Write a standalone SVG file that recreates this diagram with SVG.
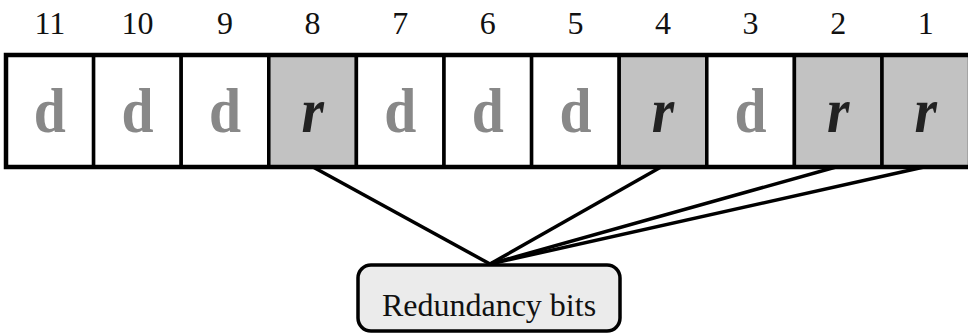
<svg xmlns="http://www.w3.org/2000/svg" width="968" height="334" viewBox="0 0 968 334">
<style>
.num{font-family:"Liberation Serif",serif;font-size:32px;text-anchor:middle;fill:#111}
.cell{stroke:#000;stroke-width:3.5}
.d{fill:#fff}
.r{fill:#c2c2c2}
.dl{font-family:"Liberation Serif",serif;font-size:64px;font-weight:bold;text-anchor:middle;fill:#888}
.rl{font-family:"Liberation Serif",serif;font-size:64px;font-weight:bold;font-style:italic;text-anchor:middle;fill:#222}
.conn{stroke:#000;stroke-width:3.5;fill:none}
</style>
<rect width="968" height="334" fill="#fff"/>
<g id="connectors">
<line class="conn" x1="313" y1="167" x2="490" y2="264"/>
<line class="conn" x1="661" y1="167" x2="490" y2="264"/>
<line class="conn" x1="836" y1="167" x2="490" y2="264"/>
<line class="conn" x1="924" y1="167" x2="490" y2="264"/>
</g>
<g id="bit11"><rect class="cell d" x="6" y="55" width="87.6" height="112"/><text class="num" x="49.8" y="34">11</text><text class="dl" transform="translate(49.8 132) scale(0.9 1)">d</text></g>
<g id="bit10"><rect class="cell d" x="93.6" y="55" width="87.6" height="112"/><text class="num" x="137.4" y="34">10</text><text class="dl" transform="translate(137.4 132) scale(0.9 1)">d</text></g>
<g id="bit9"><rect class="cell d" x="181.2" y="55" width="87.6" height="112"/><text class="num" x="225" y="34">9</text><text class="dl" transform="translate(225 132) scale(0.9 1)">d</text></g>
<g id="bit8"><rect class="cell r" x="268.8" y="55" width="87.6" height="112"/><text class="num" x="312.6" y="34">8</text><text class="rl" transform="translate(312.6 132) scale(0.9 1)">r</text></g>
<g id="bit7"><rect class="cell d" x="356.4" y="55" width="87.6" height="112"/><text class="num" x="400.2" y="34">7</text><text class="dl" transform="translate(400.2 132) scale(0.9 1)">d</text></g>
<g id="bit6"><rect class="cell d" x="444" y="55" width="87.6" height="112"/><text class="num" x="487.8" y="34">6</text><text class="dl" transform="translate(487.8 132) scale(0.9 1)">d</text></g>
<g id="bit5"><rect class="cell d" x="531.6" y="55" width="87.6" height="112"/><text class="num" x="575.4" y="34">5</text><text class="dl" transform="translate(575.4 132) scale(0.9 1)">d</text></g>
<g id="bit4"><rect class="cell r" x="619.2" y="55" width="87.6" height="112"/><text class="num" x="663" y="34">4</text><text class="rl" transform="translate(663 132) scale(0.9 1)">r</text></g>
<g id="bit3"><rect class="cell d" x="706.8" y="55" width="87.6" height="112"/><text class="num" x="750.6" y="34">3</text><text class="dl" transform="translate(750.6 132) scale(0.9 1)">d</text></g>
<g id="bit2"><rect class="cell r" x="794.4" y="55" width="87.6" height="112"/><text class="num" x="838.2" y="34">2</text><text class="rl" transform="translate(838.2 132) scale(0.9 1)">r</text></g>
<g id="bit1"><rect class="cell r" x="882" y="55" width="87.6" height="112"/><text class="num" x="925.8" y="34">1</text><text class="rl" transform="translate(925.8 132) scale(0.9 1)">r</text></g>
<rect x="6" y="55" width="970" height="112" fill="none" stroke="#000" stroke-width="4.5"/>
<g id="redundancy"><rect x="358" y="265" width="262" height="66" rx="13" fill="#ebebeb" stroke="#000" stroke-width="3.5"/><text x="489" y="316" font-family="Liberation Serif, serif" font-size="32" text-anchor="middle" fill="#111">Redundancy bits</text></g>
</svg>
